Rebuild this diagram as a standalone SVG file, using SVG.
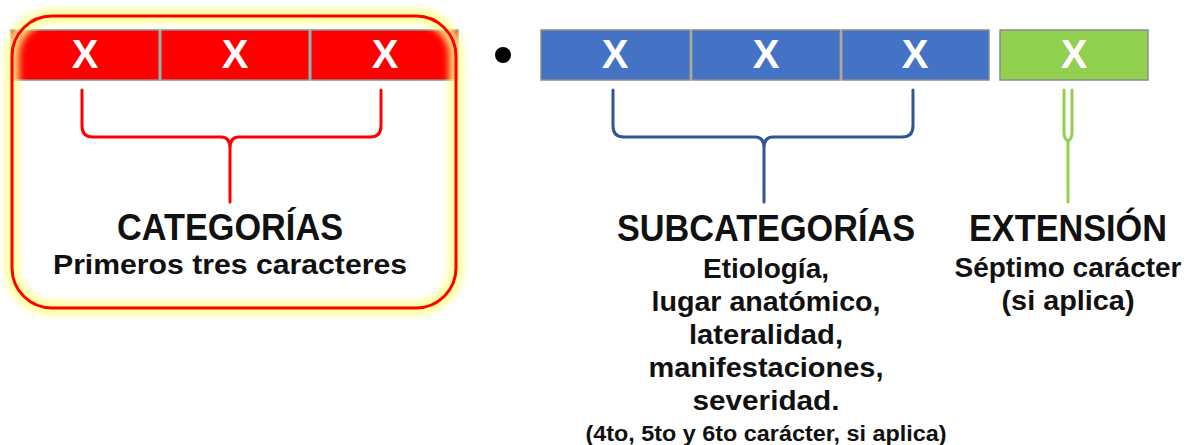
<svg xmlns="http://www.w3.org/2000/svg" width="1193" height="445" viewBox="0 0 1193 445">
<style>
.cell{stroke:#8c8c8c;stroke-width:1.5}
.red{fill:#fe0000}.blue{fill:#4472c4}.green{fill:#92d050}
.x{font-family:"Liberation Sans Narrow","Liberation Sans",Arial,sans-serif;font-weight:bold;font-size:40px;fill:#fff;text-anchor:middle}
.t{font-family:"Liberation Sans Narrow","Liberation Sans",Arial,sans-serif;font-weight:bold;fill:#111;text-anchor:middle}
.h{font-size:36px}.s{font-size:28px}.xs{font-size:22px}
.br{fill:none;stroke-width:3;stroke-linecap:round;stroke-linejoin:round}
</style>
<defs>
<filter id="glow" x="-10%" y="-10%" width="120%" height="120%"><feGaussianBlur stdDeviation="3.5"/></filter>
</defs>
<rect width="1193" height="445" fill="#fff"/>
<g id="categorias">
<rect class="cell red" x="11" y="30" width="148" height="50"/>
<rect class="cell red" x="161" y="30" width="148" height="50"/>
<rect class="cell red" x="311" y="30" width="147" height="50"/>
<text class="x" x="85" y="68">X</text>
<text class="x" x="235" y="68">X</text>
<text class="x" x="385" y="68">X</text>
<rect x="12" y="16" width="444" height="292" rx="40" fill="none" stroke="#ffff88" stroke-width="14" opacity="0.85" filter="url(#glow)"/>
<rect x="12" y="16" width="444" height="292" rx="40" fill="none" stroke="#ff0000" stroke-width="3"/>
<text class="t h" x="230" y="240" textLength="226" lengthAdjust="spacingAndGlyphs">CATEGORÍAS</text>
<text class="t s" x="230" y="274" textLength="354" lengthAdjust="spacingAndGlyphs">Primeros tres caracteres</text>
</g>
<g id="punto"><circle cx="503" cy="55" r="8" fill="#000"/></g>
<g id="subcategorias">
<rect class="cell blue" x="541" y="30" width="149" height="50"/>
<rect class="cell blue" x="692" y="30" width="148" height="50"/>
<rect class="cell blue" x="842" y="30" width="147" height="50"/>
<text class="x" x="615" y="68">X</text>
<text class="x" x="766" y="68">X</text>
<text class="x" x="915" y="68">X</text>
<text class="t h" x="766" y="241" textLength="298" lengthAdjust="spacingAndGlyphs">SUBCATEGORÍAS</text>
<text class="t s" x="766" y="278" textLength="126" lengthAdjust="spacingAndGlyphs">Etiología,</text>
<text class="t s" x="766" y="311" textLength="229" lengthAdjust="spacingAndGlyphs">lugar anatómico,</text>
<text class="t s" x="766" y="344" textLength="154" lengthAdjust="spacingAndGlyphs">lateralidad,</text>
<text class="t s" x="766" y="377" textLength="235" lengthAdjust="spacingAndGlyphs">manifestaciones,</text>
<text class="t s" x="766" y="410" textLength="147" lengthAdjust="spacingAndGlyphs">severidad.</text>
<text class="t xs" x="766" y="441" textLength="361" lengthAdjust="spacingAndGlyphs">(4to, 5to y 6to carácter, si aplica)</text>
</g>
<g id="extension">
<rect class="cell green" x="1000" y="30" width="148" height="50"/>
<text class="x" x="1074" y="68">X</text>
<text class="t h" x="1068" y="241" textLength="198" lengthAdjust="spacingAndGlyphs">EXTENSIÓN</text>
<text class="t s" x="1068" y="277" textLength="227" lengthAdjust="spacingAndGlyphs">Séptimo carácter</text>
<text class="t s" x="1068" y="310" textLength="133" lengthAdjust="spacingAndGlyphs">(si aplica)</text>
</g>
<g id="conectores">
<path class="br" stroke="#ff0000" d="M82,90 V126 Q82,137 93,137 H221 Q230,137 230,148 Q230,137 239,137 H370 Q381,137 381,126 V90 M230,148 V202"/>
<path class="br" stroke="#2f5597" d="M613,90 V126 Q613,137 624,137 H755 Q764,137 764,148 Q764,137 773,137 H902 Q913,137 913,126 V90 M764,148 V202"/>
<path class="br" stroke="#92d050" d="M1064,90 V132 Q1064,139 1068,141 Q1072,139 1072,132 V90 M1068,141 V202"/>
</g>
</svg>
